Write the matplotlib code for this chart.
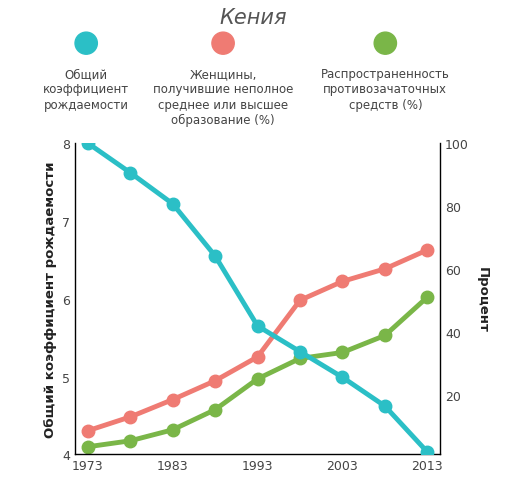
import matplotlib
matplotlib.use("Agg")
from matplotlib import pyplot as plt

years = [1973, 1978, 1983, 1988, 1993, 1998, 2003, 2008, 2013]
fertility = [8.0, 7.62, 7.22, 6.55, 5.65, 5.32, 4.99, 4.62, 4.03]
women_edu = [8.5, 12.9, 18.4, 24.4, 32, 50, 56, 60, 66]
contraception = [3.4, 5.3, 8.8, 15.2, 25, 31.5, 33.4, 38.8, 51]
tick_years = [1973, 1983, 1993, 2003, 2013]

c_teal = "#2bbfc6"
c_red = "#ef7b73"
c_green = "#7ab648"
txt = "#444444"

fig = plt.figure(figsize=(5.07, 5.02), dpi=100)
ax = fig.add_axes([0.148, 0.093, 0.72, 0.62])
ax2 = ax.twinx()

ax.plot(years, fertility, color=c_teal, lw=3.5, marker="o", ms=9, zorder=3)
ax2.plot(years, women_edu, color=c_red, lw=3.5, marker="o", ms=9)
ax2.plot(years, contraception, color=c_green, lw=3.5, marker="o", ms=9)
ax.set_zorder(ax2.get_zorder() + 1)
ax.patch.set_visible(False)

ax.set_xlim(1971.5, 2014.5)
ax.set_ylim(4, 8)
ax.set_yticks([4, 5, 6, 7, 8])
ax2.set_ylim(1, 100)
ax2.set_yticks([20, 40, 60, 80, 100])
ax.set_xticks(tick_years)

for a in (ax, ax2):
    for s in a.spines.values():
        s.set_visible(False)
    a.tick_params(length=0, labelsize=9, colors=txt)
ax.spines["left"].set_visible(True)
ax2.spines["right"].set_visible(True)
ax.spines["bottom"].set_visible(True)
for s in (ax.spines["left"], ax2.spines["right"], ax.spines["bottom"]):
    s.set_color("black")
    s.set_linewidth(1)

ax.set_ylabel("Общий коэффициент рождаемости", fontsize=9.5, fontweight="bold", color="#222222")
ax2.set_ylabel("Процент", fontsize=9.5, fontweight="bold", color="#222222", rotation=270, labelpad=14)

fig.text(0.5, 0.965, "Кения", ha="center", va="center", fontsize=15, style="italic", color="#555555")
legend = [
    (0.17, c_teal, "Общий\nкоэффициент\nрождаемости"),
    (0.44, c_red, "Женщины,\nполучившие неполное\nсреднее или высшее\nобразование (%)"),
    (0.76, c_green, "Распространенность\nпротивозачаточных\nсредств (%)"),
]
for x, c, label in legend:
    fig.add_artist(plt.Circle((x, 0.912), 0.022, color=c, transform=fig.transFigure))
    fig.text(x, 0.865, label, ha="center", va="top", fontsize=8.5, color=txt, linespacing=1.25)

fig.savefig("out.png", dpi=100)
